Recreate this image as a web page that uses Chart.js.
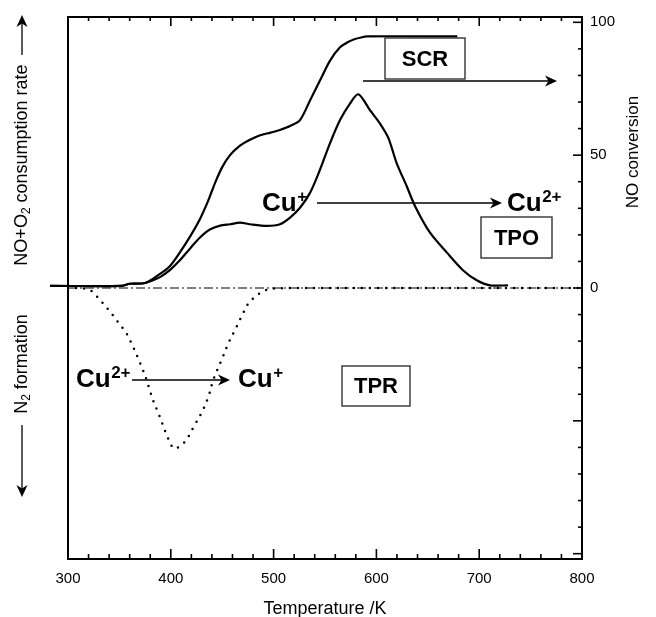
<!DOCTYPE html>
<html><head><meta charset="utf-8">
<script src="https://cdn.jsdelivr.net/npm/chart.js@4/dist/chart.umd.min.js"></script>
<style>html,body{margin:0;padding:0;background:#fff;}#wrap{width:656px;height:617px;position:relative;}</style>
</head><body><div id="wrap"><canvas id="c" width="656" height="617"></canvas></div>
<script>
// ---- data ----
const scrTemperature = [282.5, 352.5, 360, 375, 389.5, 399, 409, 419, 428.4, 436, 443, 450, 457.6, 467, 477, 487, 497, 506, 516, 525.7, 535.4, 545.1, 554.9, 564.6, 572, 579.2, 585, 590.6, 678.7];
const scrConversion = [0.8, 0.8, 1.6, 1.9, 5.3, 8.2, 13.5, 19.5, 26, 32.5, 39.5, 45.5, 50, 53.5, 55.8, 57.5, 58.5, 59.5, 61, 63.2, 70.6, 78.1, 85.6, 90.6, 92.5, 93.7, 94.3, 94.7, 94.7];
const tpoTemperature = [282.5, 352.5, 360, 375, 389.5, 399, 409, 419, 428.4, 438, 448, 457.6, 467.3, 477, 493.3, 506.2, 516, 525.7, 535.4, 545.1, 554.9, 564.6, 574.3, 582.4, 593.8, 603.5, 611.6, 619.7, 629.5, 637.5, 652, 668.4, 684.5, 697.6, 710.5, 728];
const tpoRate = [0.8, 0.8, 1.6, 1.9, 4.1, 6.7, 10.5, 15, 19, 22, 23.5, 24, 24.6, 24, 23.4, 24, 26.5, 30.2, 35.8, 44.5, 54.5, 63.2, 69.4, 72.9, 66.9, 61.9, 56.5, 47, 38.3, 30.9, 20.9, 13.4, 6.6, 2.9, 1.0, 1.0];
const tprTemperature = [300, 315, 323, 331, 340.2, 348, 356.7, 362, 367.4, 372, 375.9, 380, 383, 388.8, 395.3, 402.4, 407, 412.2, 417, 421.9, 430, 436.5, 441.4, 449.5, 456, 464, 470, 475.4, 483, 490, 498, 520, 600, 700, 800];
const tprFormation = [0, -0.2, -1.2, -4.5, -8.6, -12.5, -17, -21, -25.7, -30, -34, -39, -42.5, -48, -54.6, -60.3, -60, -58.5, -56, -52.5, -46.9, -41, -34.5, -27, -20.8, -14.6, -9.8, -5.9, -3, -1.2, -0.3, 0, 0, 0, 0];
const zeroTemperature = [300, 800];
const zeroValue = [0, 0];
const xTickLabels = [300, 400, 500, 600, 700, 800];
const xMinorTicks = [300,320,340,360,380,400,420,440,460,480,500,520,540,560,580,600,620,640,660,680,700,720,740,760,780,800];
const yTickLabels = [0, 50, 100];
const yMinorTicks = [-100,-90,-80,-70,-60,-50,-40,-30,-20,-10,0,10,20,30,40,50,60,70,80,90,100];

const pts = (xs, ys) => xs.map((x, i) => ({x, y: ys[i]}));
const FONT = "'Liberation Sans', Arial, Helvetica, sans-serif";

function arrowHead(ctx, x, y, dir) {
  ctx.save();
  ctx.translate(x, y);
  if (dir === 'up') ctx.rotate(-Math.PI / 2);
  if (dir === 'down') ctx.rotate(Math.PI / 2);
  ctx.beginPath();
  ctx.moveTo(0, 0);
  ctx.lineTo(-12, -5.5);
  ctx.lineTo(-8.5, 0);
  ctx.lineTo(-12, 5.5);
  ctx.closePath();
  ctx.fill();
  ctx.restore();
}
function hArrow(ctx, x1, x2, y) {
  ctx.beginPath(); ctx.moveTo(x1, y); ctx.lineTo(x2 - 8, y); ctx.stroke();
  arrowHead(ctx, x2, y, 'right');
}
function cuLabel(ctx, x, baseline, sup) {
  ctx.font = "bold 26px " + FONT;
  ctx.textAlign = 'left'; ctx.textBaseline = 'alphabetic';
  ctx.fillText('Cu', x, baseline);
  const w = ctx.measureText('Cu').width;
  ctx.font = "bold 17px " + FONT;
  ctx.fillText(sup, x + w + 0.5, baseline - 9);
}
function boxLabel(ctx, x1, y1, x2, y2, text) {
  ctx.save();
  ctx.strokeStyle = '#333'; ctx.lineWidth = 1.4;
  ctx.strokeRect(x1, y1, x2 - x1, y2 - y1);
  ctx.fillStyle = '#000';
  ctx.font = "bold 22px " + FONT;
  ctx.textAlign = 'center'; ctx.textBaseline = 'middle';
  ctx.fillText(text, (x1 + x2) / 2, (y1 + y2) / 2 + 1);
  ctx.restore();
}
function rotatedRich(ctx, cx, cy, parts) {
  ctx.save();
  ctx.translate(cx, cy);
  ctx.rotate(-Math.PI / 2);
  let total = 0;
  parts.forEach(p => { ctx.font = p.font; p.w = ctx.measureText(p.text).width; total += p.w; });
  let x = -total / 2;
  ctx.textBaseline = 'middle'; ctx.textAlign = 'left';
  parts.forEach(p => { ctx.font = p.font; ctx.fillText(p.text, x, p.dy || 0); x += p.w; });
  ctx.restore();
  return total;
}

const framePlugin = {
  id: 'frame',
  afterDraw(chart) {
    const ctx = chart.ctx;
    const {left, right, top, bottom} = chart.chartArea;
    const xs = chart.scales.x, ys = chart.scales.y;
    ctx.save();
    ctx.strokeStyle = '#000'; ctx.fillStyle = '#000';
    ctx.lineWidth = 2;
    ctx.beginPath();
    ctx.moveTo(left, top); ctx.lineTo(right, top); ctx.lineTo(right, bottom); ctx.lineTo(left, bottom); ctx.closePath();
    ctx.stroke();
    ctx.lineWidth = 1.6;
    xMinorTicks.forEach(v => {
      const px = xs.getPixelForValue(v);
      const major = v % 100 === 0;
      ctx.beginPath(); ctx.moveTo(px, bottom); ctx.lineTo(px, bottom - (major ? 10 : 5)); ctx.stroke();
      ctx.beginPath(); ctx.moveTo(px, top); ctx.lineTo(px, top + (major ? 9 : 4)); ctx.stroke();
    });
    yMinorTicks.forEach(v => {
      const py = ys.getPixelForValue(v);
      const major = v % 50 === 0;
      ctx.beginPath(); ctx.moveTo(right, py); ctx.lineTo(right - (major ? 9 : 4), py); ctx.stroke();
    });
    ctx.lineWidth = 1.3;
    hArrow(ctx, 363, 557, 81);
    boxLabel(ctx, 385, 38, 465, 79, 'SCR');
    cuLabel(ctx, 262, 211, '+');
    hArrow(ctx, 317, 502, 203);
    cuLabel(ctx, 507, 211, '2+');
    boxLabel(ctx, 481, 217, 552, 258, 'TPO');
    cuLabel(ctx, 76, 387, '2+');
    hArrow(ctx, 132, 230, 380);
    cuLabel(ctx, 238, 387, '+');
    boxLabel(ctx, 342, 366, 410, 406, 'TPR');
    const f = "18px " + FONT, fs = "12px " + FONT;
    rotatedRich(ctx, 22, 165, [{text: 'NO+O', font: f}, {text: '2', font: fs, dy: 5}, {text: ' consumption rate', font: f}]);
    rotatedRich(ctx, 22, 364, [{text: 'N', font: f}, {text: '2', font: fs, dy: 5}, {text: ' formation', font: f}]);
    ctx.lineWidth = 1.3;
    ctx.beginPath(); ctx.moveTo(22, 55); ctx.lineTo(22, 22); ctx.stroke();
    arrowHead(ctx, 22, 15, 'up');
    ctx.beginPath(); ctx.moveTo(22, 425); ctx.lineTo(22, 490); ctx.stroke();
    arrowHead(ctx, 22, 497, 'down');
    rotatedRich(ctx, 633, 152, [{text: 'NO conversion', font: "17px " + FONT}]);
    ctx.restore();
  }
};

new Chart(document.getElementById('c'), {
  type: 'line',
  data: {
    datasets: [
      { data: pts(zeroTemperature, zeroValue), borderColor: '#000', borderWidth: 1.2, borderDash: [9, 3, 2, 3], pointRadius: 0, yAxisID: 'y' },
      { data: pts(tprTemperature, tprFormation), borderColor: '#000', borderWidth: 2.5, borderDash: [0, 8], borderCapStyle: 'round', tension: 0.35, pointRadius: 0, yAxisID: 'y' },
      { data: pts(scrTemperature, scrConversion), borderColor: '#000', borderWidth: 2.2, tension: 0.3, pointRadius: 0, clip: false, yAxisID: 'y' },
      { data: pts(tpoTemperature, tpoRate), borderColor: '#000', borderWidth: 2.2, tension: 0.3, pointRadius: 0, clip: false, yAxisID: 'y' }
    ]
  },
  options: {
    animation: false, responsive: false, devicePixelRatio: 1,
    layout: { padding: { top: 13, left: 0, right: 0, bottom: 0 } },
    plugins: { legend: { display: false }, tooltip: { enabled: false } },
    scales: {
      x: {
        type: 'linear', position: 'bottom', min: 300, max: 800,
        grid: { display: false, drawTicks: false }, border: { display: false },
        afterBuildTicks(s) { s.ticks = xTickLabels.map(v => ({ value: v })); },
        ticks: { color: '#000', font: { family: FONT, size: 15 }, padding: 11, maxRotation: 0, autoSkip: false },
        title: { display: true, text: 'Temperature /K', color: '#000', font: { family: FONT, size: 18 }, padding: { top: 0, bottom: -3 } },
        afterFit(s) { s.height = 58; }
      },
      yL: {
        position: 'left', min: -102, max: 102,
        grid: { display: false, drawTicks: false }, border: { display: false },
        ticks: { display: false },
        afterFit(s) { s.width = 68; }
      },
      y: {
        position: 'right', min: -102, max: 102,
        grid: { display: false, drawTicks: false }, border: { display: false },
        afterBuildTicks(s) { s.ticks = yTickLabels.map(v => ({ value: v })); },
        ticks: { color: '#000', font: { family: FONT, size: 15 }, padding: 8, autoSkip: false },
        afterFit(s) { s.width = 74; }
      }
    }
  },
  plugins: [framePlugin]
});
</script></body></html>
